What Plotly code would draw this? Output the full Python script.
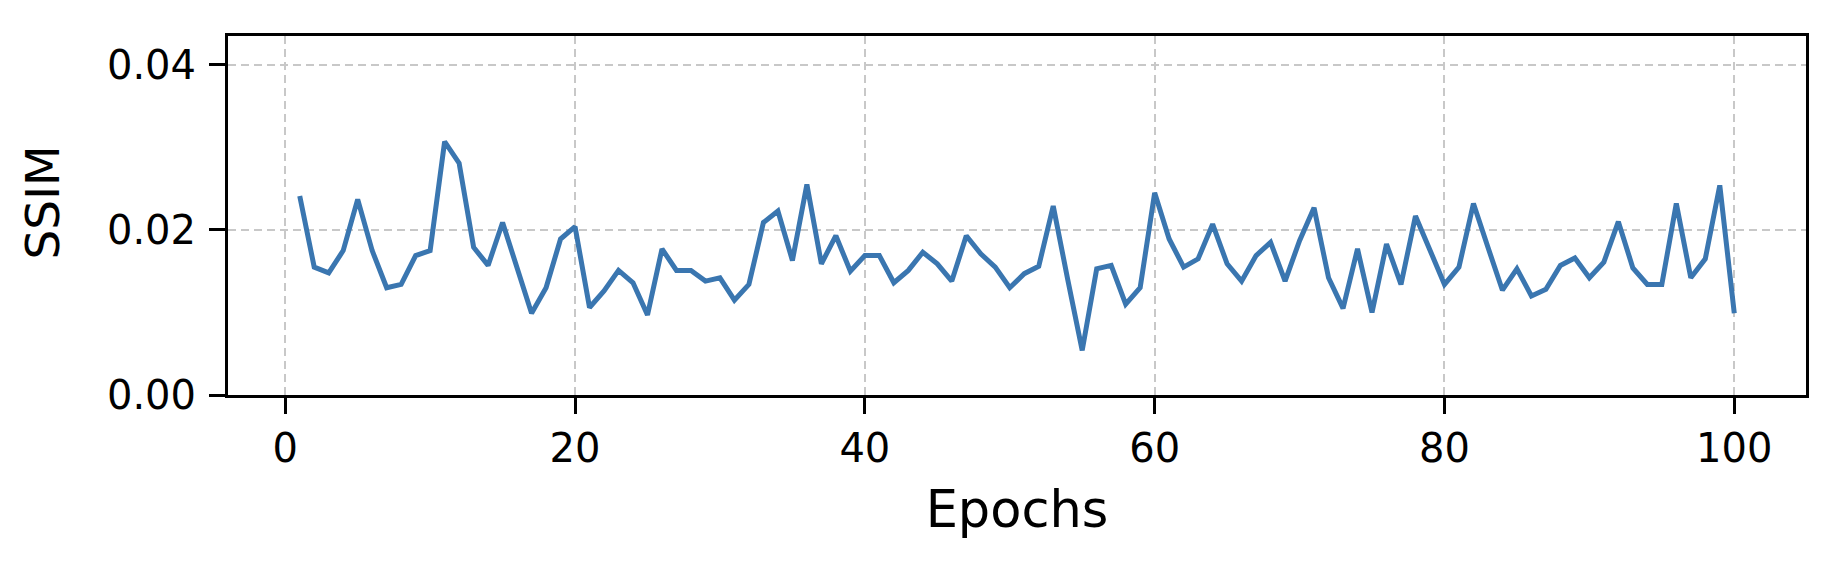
import plotly.graph_objects as go

epochs = list(range(1, 101))
ssim = [
    0.0241, 0.0155, 0.0148, 0.0175, 0.0237, 0.0175, 0.0130, 0.0134, 0.0169, 0.0175,
    0.0307, 0.0281, 0.0179, 0.0157, 0.0209, 0.0155, 0.0099, 0.0130, 0.0189, 0.0204,
    0.0106, 0.0126, 0.0151, 0.0136, 0.0097, 0.0177, 0.0151, 0.0151, 0.0138, 0.0142,
    0.0115, 0.0134, 0.0209, 0.0223, 0.0163, 0.0255, 0.0159, 0.0193, 0.0150, 0.0169,
    0.0169, 0.0136, 0.0151, 0.0173, 0.0159, 0.0138, 0.0193, 0.0171, 0.0155, 0.0130,
    0.0147, 0.0156, 0.0229, 0.0140, 0.0054, 0.0153, 0.0157, 0.0110, 0.0130, 0.0245,
    0.0189, 0.0155, 0.0165, 0.0207, 0.0159, 0.0138, 0.0169, 0.0185, 0.0138, 0.0187,
    0.0227, 0.0142, 0.0105, 0.0177, 0.0100, 0.0183, 0.0134, 0.0217, 0.0176, 0.0134,
    0.0155, 0.0232, 0.0179, 0.0127, 0.0153, 0.0120, 0.0128, 0.0157, 0.0166, 0.0142,
    0.0161, 0.0210, 0.0154, 0.0134, 0.0134, 0.0232, 0.0142, 0.0165, 0.0254, 0.0099,
]

fig = go.Figure()
fig.add_trace(go.Scatter(
    x=epochs,
    y=ssim,
    mode='lines',
    line=dict(color='#3a76b0', width=5),
    showlegend=False,
))

# matplotlib-like axes: black box, outside ticks, dashed grey grid
axis_style = dict(
    showline=True, mirror=True, linecolor='black', linewidth=3,
    ticks='outside', ticklen=16, tickwidth=2.5, tickcolor='black',
    showgrid=True, gridcolor='#c8c8c8', gridwidth=2, griddash='8px,5px',
    zeroline=False,
    tickfont=dict(family='DejaVu Sans', size=40, color='black'),
)

# page body adds an 8px offset, so margins are shifted to compensate
fig.update_layout(
    width=1844, height=568,
    margin=dict(l=220, r=46, t=28, b=181),
    plot_bgcolor='white', paper_bgcolor='white',
    xaxis=dict(axis_style, range=[-3.95, 104.95], tickvals=[0, 20, 40, 60, 80, 100],
               title=dict(text='Epochs', standoff=22,
                          font=dict(family='DejaVu Sans', size=51, color='black'))),
    yaxis=dict(axis_style, range=[0, 0.0435], tickvals=[0, 0.02, 0.04], tickformat='.2f',
               ticklabelstandoff=5),
)

# y label as annotation so it sits a bit above centre, like matplotlib
fig.add_annotation(
    text='SSIM', textangle=-90, showarrow=False,
    xref='paper', yref='paper', x=0, y=0.5, xanchor='center', yanchor='middle',
    xshift=-186, yshift=13,
    font=dict(family='DejaVu Sans', size=47, color='black'),
)

fig.write_html("out.html")
